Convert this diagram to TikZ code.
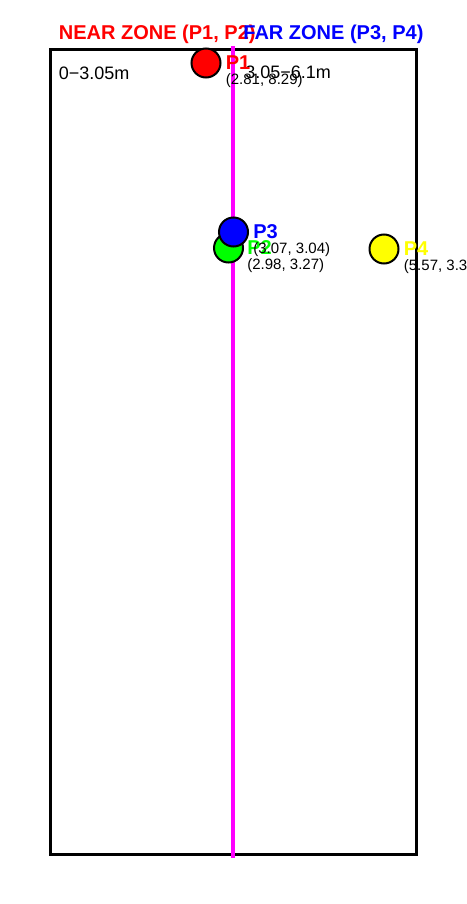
\documentclass[tikz,border=0pt]{standalone}
\usepackage{fontspec}
\setmainfont{Liberation Sans}
\usetikzlibrary{positioning}
\definecolor{ptred}{RGB}{255,0,0}
\definecolor{ptgreen}{RGB}{0,255,0}
\definecolor{ptblue}{RGB}{0,0,255}
\definecolor{ptyellow}{RGB}{255,255,0}
\definecolor{divmag}{RGB}{255,0,255}

\begin{document}
\begin{tikzpicture}[
  x=0.5pt, y=-0.5pt,
  field/.style={rectangle, draw, line width=1.5pt, minimum width=183pt,
                minimum height=402pt, inner sep=0pt},
  divider/.style={divmag, line width=2pt},
  spot/.style={circle, draw, line width=1pt, minimum size=14.5pt, inner sep=0pt},
  spotlab/.style={font=\fontsize{10}{12}\selectfont\bfseries, inner sep=0pt},
  spotxy/.style={font=\fontsize{7.5}{9}\selectfont, inner sep=0pt},
  zonehead/.style={font=\fontsize{10}{12}\selectfont\bfseries, inner sep=0pt, anchor=west},
  zonerange/.style={font=\fontsize{9}{11}\selectfont, inner sep=0pt, anchor=west},
  node distance=2pt
]
\useasboundingbox (0,0) rectangle (466,904);
\clip (0,0) rectangle (466,904);

% Field outline and zone divider
\node[field] (field) at (233,452) {};
\draw[divider] ([yshift=1pt]field.north) -- ([yshift=-1pt]field.south);

% Zone headers
\node[zonehead, text=ptred]  (nearhead) at ([shift={(5pt,7pt)}]field.north west) {NEAR ZONE (P1, P2)};
\node[zonehead, text=ptblue] (farhead)  at ([shift={(5pt,7pt)}]field.north) {FAR ZONE (P3, P4)};

% Zone ranges
\node[zonerange] (nearrange) at ([shift={(5pt,-12.5pt)}]field.north west) {0−3.05m};
\node[zonerange] (farrange)  at ([shift={(6pt,-12pt)}]field.north) {3.05−6.1m};

% Points
\node[spot, fill=ptred] (p1) at (206,63) {};
\node[spotlab, text=ptred, right=2pt of p1] (p1lab) {P1};
\node[spotxy, below=1.5pt of p1lab.south west, anchor=north west] (p1xy) {(2.81, 8.29)};

\node[spot, fill=ptgreen] (p2) at (228.5,248) {};
\node[spotlab, text=ptgreen, right=1.5pt of p2] (p2lab) {P2};
\node[spotxy, below=1.5pt of p2lab.south west, anchor=north west] (p2xy) {(2.98, 3.27)};

\node[spot, fill=ptblue] (p3) at (233.5,232) {};
\node[spotlab, text=ptblue, right=2pt of p3] (p3lab) {P3};
\node[spotxy, below=1.5pt of p3lab.south west, anchor=north west] (p3xy) {(3.07, 3.04)};

\node[spot, fill=ptyellow] (p4) at (384,249) {};
\node[spotlab, text=ptyellow, right=2pt of p4] (p4lab) {P4};
\node[spotxy, below=1.5pt of p4lab.south west, anchor=north west] (p4xy) {(5.57, 3.30)};
\end{tikzpicture}
\end{document}
